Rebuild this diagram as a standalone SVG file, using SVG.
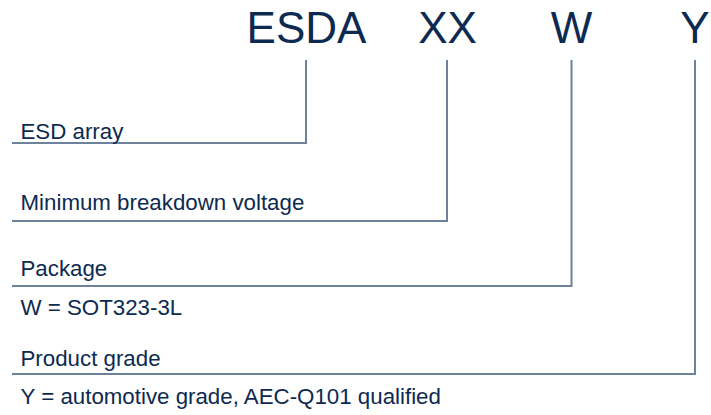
<svg xmlns="http://www.w3.org/2000/svg" width="711" height="415" viewBox="0 0 711 415">
<style>
.t{font-family:"Liberation Sans",Arial,sans-serif;fill:#0d2a50}
.big{font-size:44px;text-anchor:middle}
.lab{font-size:22.3px}
.ln{fill:none;stroke:#6f829c;stroke-width:2}
</style>
<rect width="711" height="415" fill="#fff"/>
<g id="code">
<text class="t big" x="306.5" y="43">ESDA</text>
<text class="t big" x="447.5" y="43">XX</text>
<text class="t big" x="571.5" y="43">W</text>
<text class="t big" x="695" y="43">Y</text>
</g>
<g id="connectors">
<polyline class="ln" points="306,60 306,143 12,143"/>
<polyline class="ln" points="447,60 447,221 12,221"/>
<polyline class="ln" points="571.5,60 571.5,286 12,286"/>
<polyline class="ln" points="695,60 695,374 12,374"/>
</g>
<g id="esd-array"><text class="t lab" x="20.5" y="139">ESD array</text></g>
<g id="voltage"><text class="t lab" x="20.5" y="210">Minimum breakdown voltage</text></g>
<g id="package"><text class="t lab" x="20.5" y="276">Package</text>
<text class="t lab" x="20.5" y="315">W = SOT323-3L</text></g>
<g id="grade"><text class="t lab" x="20.5" y="366">Product grade</text>
<text class="t lab" x="20.5" y="404">Y = automotive grade, AEC-Q101 qualified</text></g>
</svg>
